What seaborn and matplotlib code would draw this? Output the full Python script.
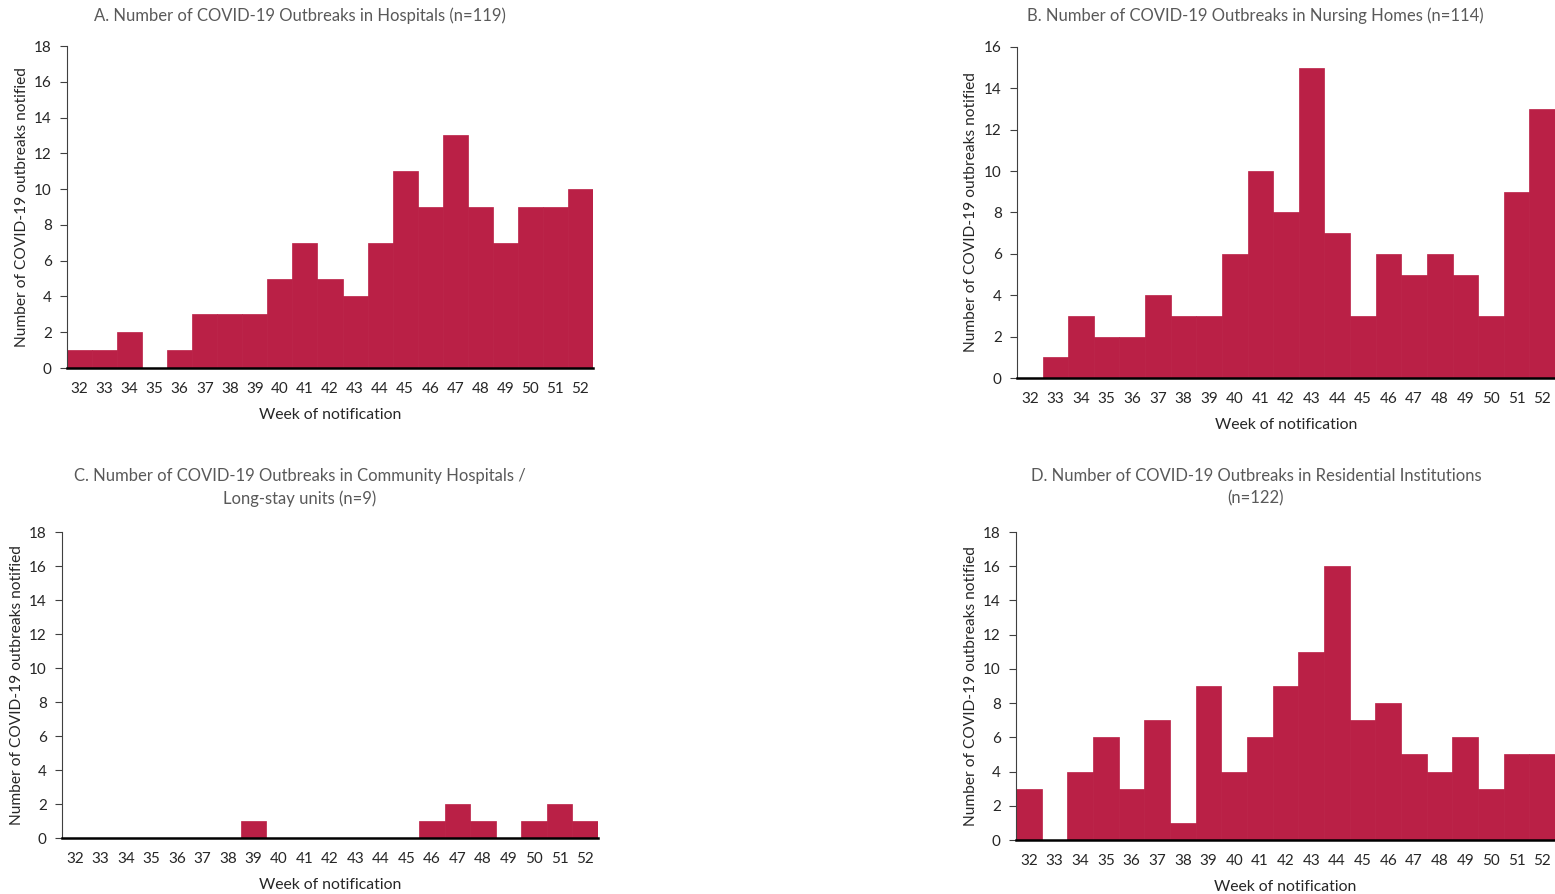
import pandas as pd
import matplotlib.pyplot as plt
import seaborn as sns

# -------------------------------
# Data
# -------------------------------
weeks = [str(w) for w in range(32, 53)]

hospitals = [1, 1, 2, 0, 1, 3, 3, 3, 5, 7, 5, 4, 7, 11, 9, 13, 9, 7, 9, 9, 10]
nursing_homes = [0, 1, 3, 2, 2, 4, 3, 3, 6, 10, 8, 15, 7, 3, 6, 5, 6, 5, 3, 9, 13]
community_hosp = [0, 0, 0, 0, 0, 0, 0, 1, 0, 0, 0, 0, 0, 0, 1, 2, 1, 0, 1, 2, 1]
residential = [3, 0, 4, 6, 3, 7, 1, 9, 4, 6, 9, 11, 16, 7, 8, 5, 4, 6, 3, 5, 5]

titles = [
    "A. Number of COVID-19 Outbreaks in Hospitals (n=119)",
    "B. Number of COVID-19 Outbreaks in Nursing Homes (n=114)",
    "C. Number of COVID-19 Outbreaks in Community Hospitals /\nLong-stay units (n=9)",
    "D. Number of COVID-19 Outbreaks in Residential Institutions\n(n=122)",
]
y_max = [18, 16, 18, 18]

# -------------------------------
# Style
# -------------------------------
sns.set_style("ticks")
plt.rcParams['font.family'] = ['Lato', 'DejaVu Sans']

bar_color = "#BA2046"
W, H = 1555, 894

fig = plt.figure(figsize=(15.55, 8.94), dpi=100)

# axes boxes in pixels: left, right, top, bottom
boxes = [
    (67, 593, 46, 368),
    (1017, 1555, 47, 378),
    (62, 598, 532, 838),
    (1016, 1555, 532, 840),
]
# title centre (x px, y px of first line)
title_pos = [(300, 16), (1255, 16), (300, 477), (1256, 477)]
ylabel_x = [22, 971, 17, 971]

series = [hospitals, nursing_homes, community_hosp, residential]

for i in range(4):
    l, r, t, b = boxes[i]
    ax = fig.add_axes([l / W, 1 - b / H, (r - l) / W, (b - t) / H])

    df = pd.DataFrame({'week': weeks, 'count': series[i]})
    sns.barplot(
        data=df, x='week', y='count', order=weeks,
        color=bar_color, width=1, saturation=1,
        edgecolor=bar_color, linewidth=0.5, ax=ax
    )

    ax.set_xlim(-0.5, len(weeks) - 0.5)
    ax.set_ylim(0, y_max[i])
    ax.set_yticks(range(0, y_max[i] + 1, 2))

    sns.despine(ax=ax)
    ax.spines['left'].set_linewidth(0.8)
    ax.spines['left'].set_color('#404040')
    ax.spines['bottom'].set_linewidth(1.8)
    ax.spines['bottom'].set_color('black')
    ax.spines['bottom'].set_zorder(5)

    ax.tick_params(axis='x', length=0, pad=10, labelsize=11)
    ax.tick_params(axis='y', length=5, width=0.8, color='#404040',
                   labelsize=11, pad=6)

    ax.set_xlabel("Week of notification", fontsize=11.3, labelpad=9)
    ax.set_ylabel("")

    # y label placed in figure coords
    fig.text(ylabel_x[i] / W, 1 - ((t + b) / 2) / H,
             "Number of COVID-19 outbreaks notified",
             rotation=90, ha='center', va='center', fontsize=11.2)

    tx, ty = title_pos[i]
    fig.text(tx / W, 1 - (ty - 9) / H, titles[i],
             ha='center', va='top', fontsize=12, color='#595959',
             linespacing=1.5)

plt.savefig("out.png", dpi=100)
